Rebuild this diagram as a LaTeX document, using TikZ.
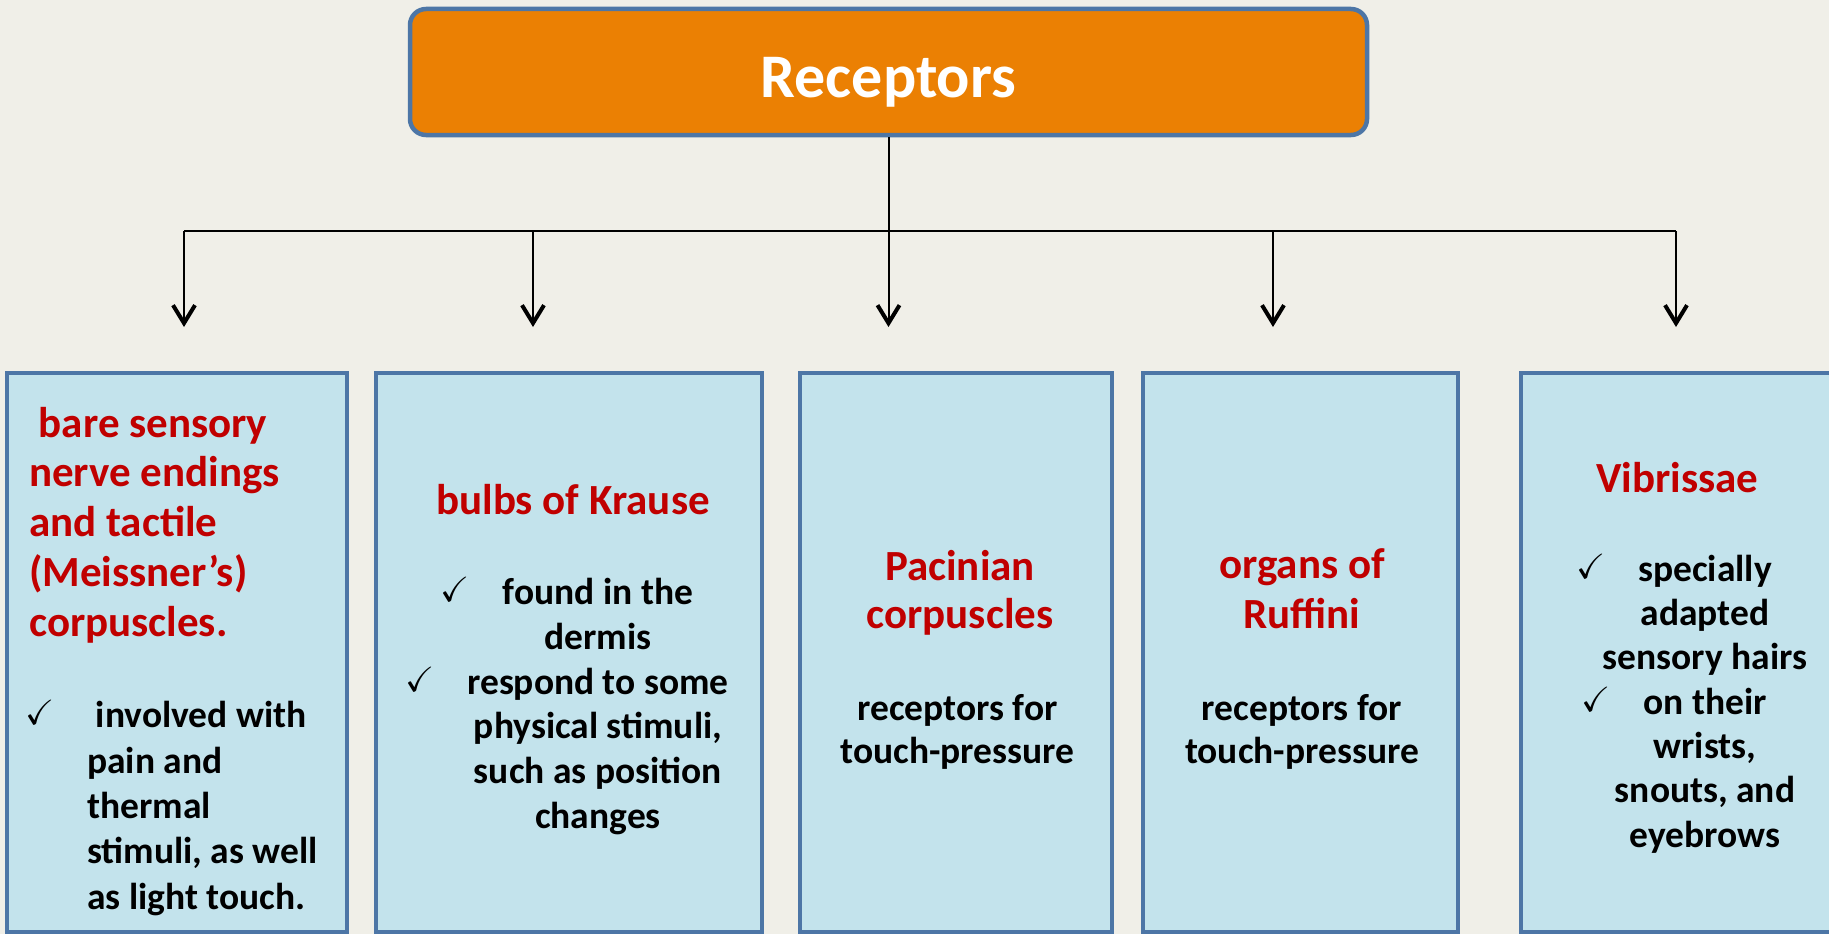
\documentclass[tikz,border=0pt]{standalone}
\usepackage{amssymb}
\usepackage{fontspec}
\setmainfont{Carlito}
\usepackage{tikz}
\usetikzlibrary{arrows.meta, positioning}
\tikzset{>={Straight Barb[length=18pt, width=22pt, line width=4pt]}}

\definecolor{cream}{HTML}{F0EFE8}
\definecolor{paleblue}{HTML}{C3E3EC}
\definecolor{edgeblue}{HTML}{4D76A6}
\definecolor{titleorange}{HTML}{EB8003}
\definecolor{darkred}{HTML}{C00000}

\newcommand{\tick}{\llap{\raisebox{3pt}{\fontsize{35}{35}\selectfont$\checkmark$}\hspace{33pt}}}

\begin{document}
\begin{tikzpicture}[
  x=1pt, y=-1pt,
  title/.style={rectangle, rounded corners=16pt, draw=edgeblue, line width=4.5pt, fill=titleorange, minimum width=957pt, minimum height=126pt, text=white, text height=52pt, text depth=0pt, font=\fontsize{62}{62}\selectfont\bfseries},
  panel/.style={rectangle, draw=edgeblue, line width=3.5pt, fill=paleblue, minimum height=559pt, inner sep=0pt},
  heading/.style={text=darkred, font=\fontsize{43}{48}\selectfont\bfseries, inner sep=0pt, anchor=base},
  body/.style={text=black, font=\fontsize{37.5}{44.5}\selectfont\bfseries, inner sep=0pt, anchor=base},
  link/.style={line width=2pt, black},
  arrow/.style={->, line width=2pt, black}
]

% Canvas
\useasboundingbox (0,0) rectangle (1829,934);
\fill[cream] (0,0) rectangle (1829,934);

% Title box
\node[title] (recep) at (888.5,72) {Receptors};

% Panel 1: bare endings and Meissner's corpuscles (multi-line nodes sit on their last baseline)
\node[panel, minimum width=340pt] (p1) at (177,652.5) {};
\node[heading, anchor=base west, align=left, font=\fontsize{43}{49.75}\selectfont\bfseries] (h1) at (29,636) {\hspace*{9.7pt}bare sensory\\nerve endings\\and tactile\\(Meissner’s)\\corpuscles.};
\node[body, anchor=base west, align=left, font=\fontsize{37.5}{45.3}\selectfont\bfseries] (t1) at (87,909) {\tick\hspace*{8.6pt}involved with\\pain and\\thermal\\stimuli, as well\\as light touch.};

% Panel 2: bulbs of Krause
\node[panel, minimum width=386pt] (p2) at (569,652.5) {};
\node[heading] (h2) at (573,514) {bulbs of Krause};
\node[body, align=center, font=\fontsize{37.5}{44.8}\selectfont\bfseries] (t2) at (598,828.5) {\tick found in the\\dermis\\\tick respond to some\\physical stimuli,\\such as position\\changes};

% Panel 3: Pacinian corpuscles
\node[panel, minimum width=312pt] (p3) at (956,652.5) {};
\node[heading, align=center] (h3) at (960,628) {Pacinian\\corpuscles};
\node[body, align=center, font=\fontsize{37.5}{43}\selectfont\bfseries] (t3) at (957.5,763) {receptors for\\touch-pressure};

% Panel 4: organs of Ruffini
\node[panel, minimum width=315pt] (p4) at (1300.5,652.5) {};
\node[heading, align=center, font=\fontsize{43}{50}\selectfont\bfseries] (h4) at (1302,628) {organs of\\Ruffini};
\node[body, align=center, font=\fontsize{37.5}{43}\selectfont\bfseries] (t4) at (1302,763) {receptors for\\touch-pressure};

% Panel 5: vibrissae
\node[panel, minimum width=315pt] (p5) at (1678.5,652.5) {};
\node[heading] (h5) at (1677.5,492) {Vibrissae};
\node[body, align=center, font=\fontsize{37.5}{44.3}\selectfont\bfseries] (t5) at (1705,847) {\tick specially\\adapted\\sensory hairs\\\tick on their\\wrists,\\snouts, and\\eyebrows};

% Connectors
\coordinate (hub) at (888.5,231);
\foreach \x [count=\i] in {184,533,888.5,1273,1676}
  \coordinate (tip\i) at (\x,327);
\draw[link] (recep.south) -- (hub);
\draw[link] (tip1 |- hub) -- (tip5 |- hub);
\foreach \i in {1,...,5}
  \draw[arrow] (tip\i |- hub) -- (tip\i);

\end{tikzpicture}
\end{document}
